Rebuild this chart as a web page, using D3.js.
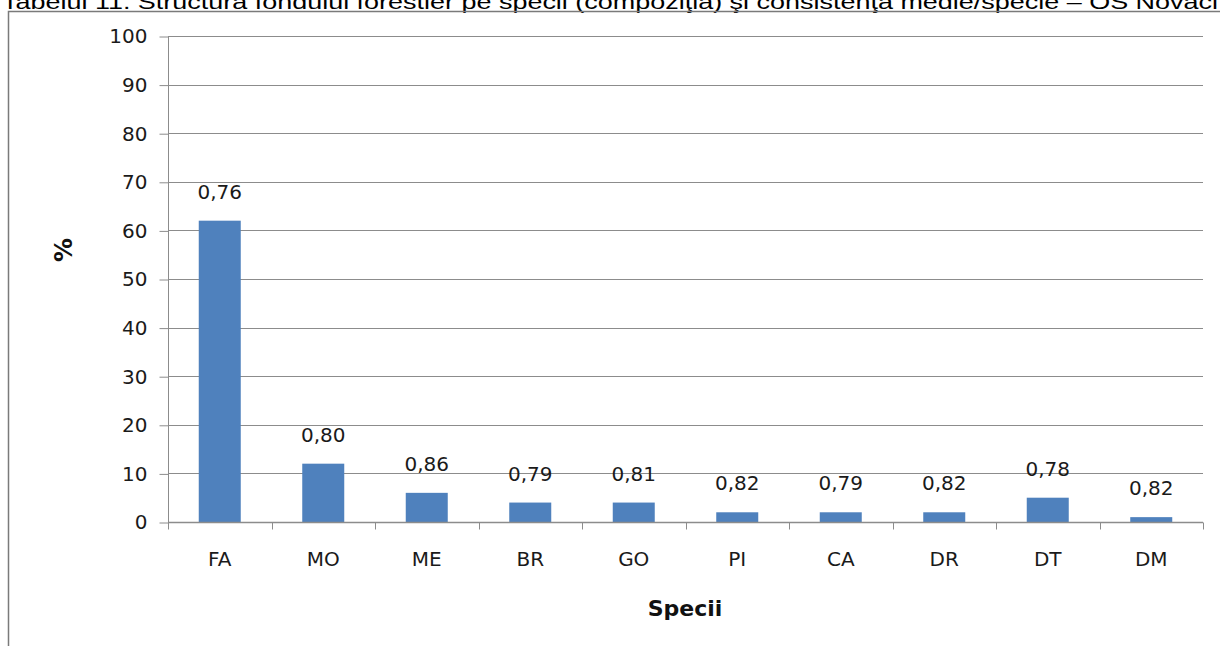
<!DOCTYPE html>
<html><head><meta charset="utf-8">
<script src="https://cdn.jsdelivr.net/npm/d3@7"></script>
<style>body{margin:0;background:#fff}svg{display:block}</style>
</head><body>
<svg id="c" width="1220" height="646"></svg>
<script>
const title = "Tabelul 11. Structura fondului forestier pe specii (compoziţia) şi consistenţa medie/specie – OS Novaci";
const categories = ["FA","MO","ME","BR","GO","PI","CA","DR","DT","DM"];
const percent = [62,12,6,4,4,2,2,2,5,1];
const consistency = ["0,76","0,80","0,86","0,79","0,81","0,82","0,79","0,82","0,78","0,82"];
const yTicks = [0,10,20,30,40,50,60,70,80,90,100];
const yTitle = "%";
const xTitle = "Specii";

const svg = d3.select("#c");
const grid = "#8c8c8c";
const font = "DejaVu Sans";
const ink = "#1a1a1a";

// title (cut by top edge, as in the source)
svg.append("text").attr("x",2).attr("y",8.5)
  .attr("font-family","Liberation Sans, Arial").attr("font-size",20).attr("fill","#000")
  .attr("textLength",1216).attr("lengthAdjust","spacingAndGlyphs").text(title);

// chart border
svg.append("path").attr("d","M8.5,646 V11.5 H1220").attr("fill","none").attr("stroke","#7a7a7a").attr("stroke-width",1.5);

const x = d3.scaleBand().domain(categories).range([168,1203]).paddingInner(0).paddingOuter(0);
const y = d3.scaleLinear().domain([0,100]).range([522,36]);

// gridlines
svg.append("g").selectAll("line").data(yTicks.filter(d=>d>0)).join("line")
  .attr("x1",168).attr("x2",1203).attr("y1",d=>Math.round(y(d))+0.5).attr("y2",d=>Math.round(y(d))+0.5)
  .attr("stroke",grid).attr("stroke-width",1);

// y axis
const ya = svg.append("g").attr("transform","translate(168.5,0.5)")
  .call(d3.axisLeft(y).tickValues(yTicks).tickSize(9).tickPadding(12).tickFormat(d3.format("d")));
ya.select(".domain").attr("stroke",grid).attr("d","M0,"+Math.round(y(100))+"V"+Math.round(y(0)));
ya.selectAll(".tick line").attr("stroke",grid);
ya.selectAll(".tick text").attr("font-family",font).attr("font-size",20).attr("fill",ink);

// bars
svg.append("g").selectAll("rect").data(categories).join("rect")
  .attr("x",(d)=>x(d)+x.bandwidth()/2-21).attr("width",42)
  .attr("y",(d,i)=>y(percent[i])).attr("height",(d,i)=>y(0)-y(percent[i]))
  .attr("fill","#4f81bd");

// x axis
const xa = svg.append("g").attr("transform","translate(0,"+(Math.round(y(0))+0.5)+")")
  .call(d3.axisBottom(x).tickSize(0).tickPadding(0));
xa.select(".domain").remove();
xa.append("line").attr("x1",168).attr("x2",1203).attr("stroke",grid).attr("stroke-width",1.5);
xa.selectAll(".tick text").attr("font-family",font).attr("font-size",20).attr("fill",ink)
  .attr("dy",0).attr("y",43);
const bounds = categories.map(d=>x(d)).concat([x.range()[1]]);
xa.selectAll(".bt").data(bounds).join("line").attr("class","bt")
  .attr("x1",d=>Math.round(d)+0.5).attr("x2",d=>Math.round(d)+0.5).attr("y1",0).attr("y2",7)
  .attr("stroke",grid);

// value labels
svg.append("g").selectAll("text").data(categories).join("text")
  .attr("x",d=>x(d)+x.bandwidth()/2).attr("y",(d,i)=>y(percent[i])-22)
  .attr("text-anchor","middle").attr("font-family",font).attr("font-size",20).attr("fill",ink)
  .text((d,i)=>consistency[i]);

// axis titles
svg.append("text").attr("transform","translate(72,250) rotate(-90)").attr("text-anchor","middle")
  .attr("font-family",font).attr("font-weight","bold").attr("font-size",24).attr("fill","#111").text(yTitle);
svg.append("text").attr("x",685).attr("y",616).attr("text-anchor","middle")
  .attr("font-family",font).attr("font-weight","bold").attr("font-size",22).attr("fill","#111").text(xTitle);
</script>
</body></html>
